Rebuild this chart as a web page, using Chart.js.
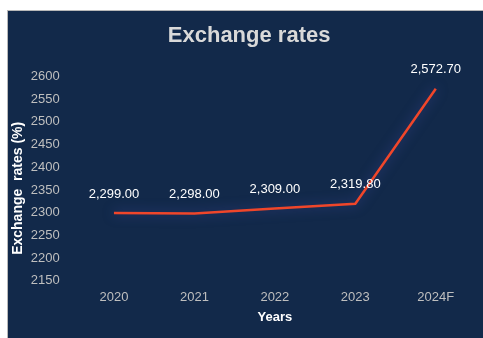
<!DOCTYPE html>
<html lang="en">
<head>
    <meta charset="UTF-8">
    <title>Exchange rates</title>
    <script src="https://cdn.jsdelivr.net/npm/chart.js"></script>
    <style>
        body { margin: 0; background: #ffffff; }
        #box {
            position: absolute; left: 7px; top: 10px;
            width: 475px; height: 327px;
            background: #12294a;
            border: 1px solid #b8b8b8;
            border-right: none; border-bottom: none;
        }
    </style>
</head>
<body>
<div id="box"><canvas id="ratesChart" width="475" height="327"></canvas></div>

<script>
    // Chart data
    const years = ['2020', '2021', '2022', '2023', '2024F'];
    const rates = [2299.00, 2298.00, 2309.00, 2319.80, 2572.70];
    const yTicks = [2150, 2200, 2250, 2300, 2350, 2400, 2450, 2500, 2550, 2600];

    const FONT = '"Liberation Sans", Arial, sans-serif';

    // Glow under the line
    const glowPlugin = {
        id: 'glow',
        beforeDatasetDraw(chart) {
            chart.ctx.save();
            chart.ctx.shadowColor = 'rgba(70, 80, 170, 0.7)';
            chart.ctx.shadowBlur = 12;
        },
        afterDatasetDraw(chart) {
            chart.ctx.restore();
        }
    };

    // Value labels above each point
    const labelPlugin = {
        id: 'valueLabels',
        afterDatasetsDraw(chart) {
            const ctx = chart.ctx;
            const meta = chart.getDatasetMeta(0);
            ctx.save();
            ctx.font = '13px ' + FONT;
            ctx.fillStyle = '#ffffff';
            ctx.textAlign = 'center';
            ctx.textBaseline = 'middle';
            meta.data.forEach(function(pt, i) {
                const v = rates[i].toLocaleString('en-US', { minimumFractionDigits: 2, maximumFractionDigits: 2 });
                ctx.fillText(v, pt.x, pt.y - 19);
            });
            ctx.restore();
        }
    };

    const ctx = document.getElementById('ratesChart').getContext('2d');
    new Chart(ctx, {
        type: 'line',
        data: {
            labels: years,
            datasets: [{
                data: rates,
                borderColor: '#f0462a',
                borderWidth: 2.5,
                pointRadius: 0,
                tension: 0,
                fill: false
            }]
        },
        options: {
            responsive: false,
            animation: false,
            layout: { padding: { left: 2, right: 7, top: 0, bottom: 9 } },
            plugins: {
                legend: { display: false },
                tooltip: { enabled: false },
                title: {
                    display: true,
                    text: '  Exchange rates',
                    color: '#d9d9d9',
                    font: { family: FONT, size: 22, weight: 'bold' },
                    padding: { top: 12, bottom: 27 }
                }
            },
            scales: {
                x: {
                    offset: true,
                    grid: { display: false, drawTicks: false },
                    border: { display: false },
                    ticks: {
                        color: '#bfbfbf',
                        font: { family: FONT, size: 13 },
                        padding: 9
                    },
                    title: {
                        display: true,
                        text: 'Years',
                        color: '#ffffff',
                        font: { family: FONT, size: 13, weight: 'bold' },
                        padding: { top: -5, bottom: 4 }
                    }
                },
                y: {
                    min: 2150,
                    max: 2600,
                    afterBuildTicks(axis) {
                        axis.ticks = yTicks.map(v => ({ value: v }));
                    },
                    grid: { display: false, drawTicks: false },
                    border: { display: false },
                    ticks: {
                        color: '#bfbfbf',
                        font: { family: FONT, size: 13 },
                        padding: 14,
                        callback: v => String(v)
                    },
                    title: {
                        display: true,
                        text: 'Exchange  rates (%)     ',
                        color: '#ffffff',
                        font: { family: FONT, size: 14, weight: 'bold' },
                        padding: { top: 0, bottom: -10 }
                    }
                }
            }
        },
        plugins: [glowPlugin, labelPlugin]
    });
</script>
</body>
</html>
